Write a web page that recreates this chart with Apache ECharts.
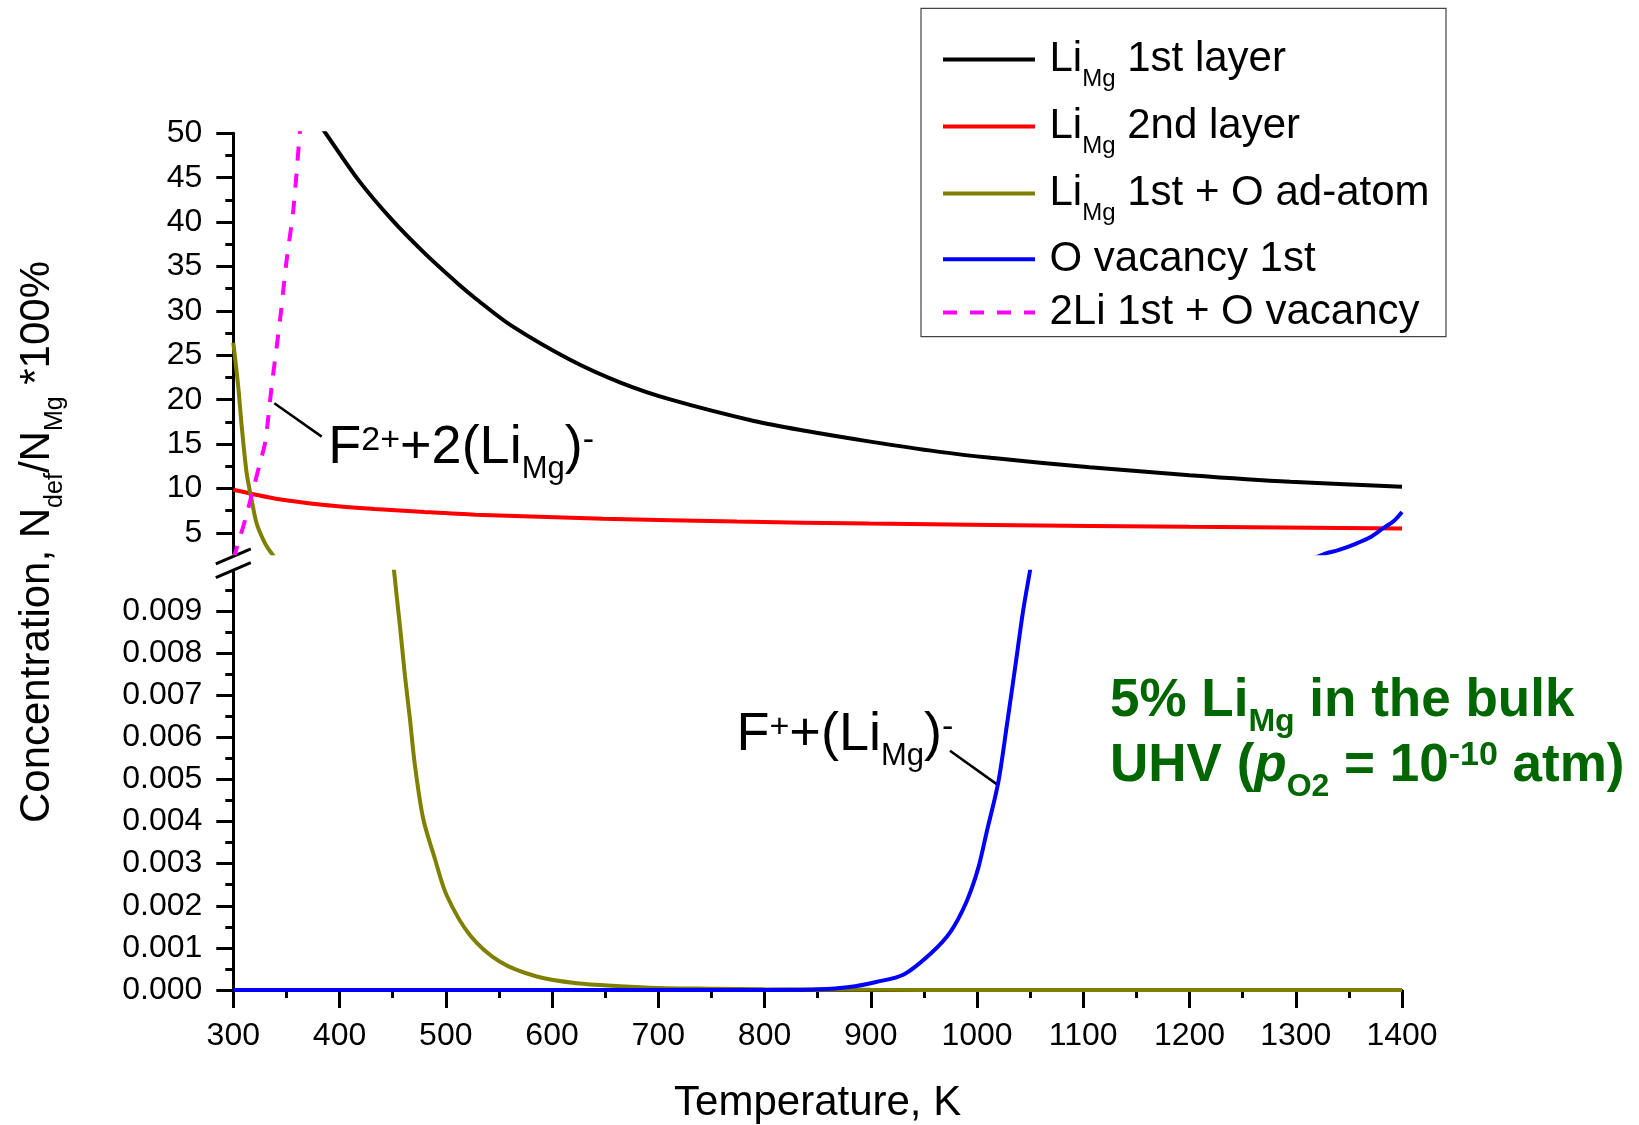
<!DOCTYPE html>
<html>
<head>
<meta charset="utf-8">
<title>Li-doped MgO surface defect concentrations</title>
<script src="https://cdn.jsdelivr.net/npm/echarts@6/dist/echarts.min.js"></script>
<style>
  html, body { margin: 0; padding: 0; background: #ffffff; }
  #chart { width: 1639px; height: 1125px; }
</style>
</head>
<body>
<div id="chart"></div>
<script>
// ---- Data: temperature (K) vs defect concentration N_def/N_Mg*100% ----
const tLi1 = [380, 387, 418, 449, 480, 512, 528, 561, 617, 665, 712, 790, 838, 901, 963, 1013, 1106, 1200, 1295, 1400];
const cLi1 = [51.2, 50.0, 44.7, 40.3, 36.5, 33.0, 31.4, 28.4, 24.5, 21.9, 20.0, 17.6, 16.5, 15.25, 14.15, 13.45, 12.4, 11.5, 10.75, 10.2];

const tLi2 = [300, 340, 386, 433, 480, 528, 648, 774, 899, 1013, 1200, 1400];
const cLi2 = [9.85, 8.85, 8.15, 7.7, 7.35, 7.05, 6.6, 6.27, 6.05, 5.9, 5.68, 5.5];

const tLiO = [300, 304.7, 308, 312.6, 317.3, 322, 330, 336, 341, 445, 451.2, 456.9, 461.6, 466.3, 471, 478.8, 489.8, 500.8, 522.8, 551, 585.6, 623.2, 664, 700, 750, 800, 850, 900, 1000, 1100, 1200, 1300, 1400];
const cLiO = [26.4, 21.4, 16.9, 11.7, 8.7, 6.05, 3.8, 2.7, 2.1, 0.0117, 0.00997, 0.00863, 0.00745, 0.00642, 0.00532, 0.00406, 0.00311, 0.00225, 0.0013, 0.00067, 0.00032, 0.00016, 0.00009, 0.00005, 0.00003, 0.000015, 0.000008, 0.000004, 0.000001, 0, 0, 0, 0];

const tVO = [300, 400, 500, 600, 700, 800, 850, 880, 905, 931, 957, 975, 990, 1001, 1009, 1020, 1028, 1036, 1043.5, 1050, 1055, 1310, 1320, 1329, 1340, 1357, 1370, 1382, 1392, 1400];
const cVO = [0, 0, 0, 0, 0, 0, 0.000015, 0.00007, 0.00019, 0.00037, 0.00088, 0.00138, 0.00209, 0.00288, 0.00374, 0.00493, 0.00627, 0.00768, 0.00902, 0.00997, 0.0107, 2.0, 2.3, 2.72, 3.05, 3.8, 4.5, 5.5, 6.3, 7.35];

const t2LiV = [300, 305, 311, 320, 325, 330, 333, 336, 344, 350, 356.5, 362, 365];
const c2LiV = [2.0, 4.0, 6.4, 10.5, 12.8, 15.2, 18.1, 21.4, 29.0, 35.5, 41.4, 49.2, 53.4];

// ---- Axis ticks ----
const tempTicksMin = 300, tempTicksMax = 1400, tempStep = 100;
const upperTicks = [5, 10, 15, 20, 25, 30, 35, 40, 45, 50];
const upperMinorTicks = [7.5, 12.5, 17.5, 22.5, 27.5, 32.5, 37.5, 42.5, 47.5];
const lowerTicks = [0, 0.001, 0.002, 0.003, 0.004, 0.005, 0.006, 0.007, 0.008, 0.009];
const lowerMinorTicks = [0.0005, 0.0015, 0.0025, 0.0035, 0.0045, 0.0055, 0.0065, 0.0075, 0.0085, 0.0095];
const upperRange = [2.7, 50];
const lowerRange = [0, 0.00993];

// ---- Series descriptions ----
const seriesNames = ['LiMg 1st layer', 'LiMg 2nd layer', 'LiMg 1st + O ad-atom', 'O vacancy 1st', '2Li 1st + O vacancy'];
const legendLabels = [
  'Li{s|Mg} 1st layer',
  'Li{s|Mg} 2nd layer',
  'Li{s|Mg} 1st + O ad-atom',
  'O vacancy 1st',
  '2Li 1st + O vacancy'
];
const seriesDefs = [
  { name: seriesNames[0], t: tLi1, c: cLi1, color: '#000000', dash: null },
  { name: seriesNames[1], t: tLi2, c: cLi2, color: '#ff0000', dash: null },
  { name: seriesNames[2], t: tLiO, c: cLiO, color: '#808000', dash: null },
  { name: seriesNames[3], t: tVO, c: cVO, color: '#0000ff', dash: null },
  { name: seriesNames[4], t: t2LiV, c: c2LiV, color: '#ff00ff', dash: [14, 13] }
];

const FONT = '"Liberation Sans", Arial, Helvetica, sans-serif';
const LINE_W = 4;

// Each curve is drawn in both panels of the broken axis; the grids clip it.
const series = [];
[[0, 0], [1, 2]].forEach(([xi, yi]) => {
  seriesDefs.forEach(d => {
    series.push({
      type: 'line',
      name: d.name,
      xAxisIndex: xi,
      yAxisIndex: yi,
      data: d.t.map((t, i) => [t, d.c[i]]),
      symbol: 'none',
      smooth: 0.3,
      clip: true,
      silent: true,
      lineStyle: { color: d.color, width: LINE_W, type: d.dash || 'solid' },
      itemStyle: { color: d.color }
    });
  });
});

const axisLineStyle = { color: '#000', width: 3 };

const option = {
  animation: false,
  backgroundColor: '#ffffff',
  textStyle: { fontFamily: FONT },
  grid: [
    { left: 233.3, width: 1168.7, top: 133.3, height: 420 },
    { left: 233.3, width: 1168.7, top: 571.7, height: 420 }
  ],
  xAxis: [
    { gridIndex: 0, type: 'value', min: tempTicksMin, max: tempTicksMax, show: false },
    {
      gridIndex: 1, type: 'value', min: tempTicksMin, max: tempTicksMax, interval: tempStep,
      axisLine: { show: true, onZero: false, lineStyle: axisLineStyle },
      axisTick: { show: true, length: 18, lineStyle: axisLineStyle },
      minorTick: { show: true, splitNumber: 2, length: 8, lineStyle: axisLineStyle },
      axisLabel: { fontSize: 32, color: '#000', margin: 30, fontFamily: FONT, formatter: v => String(v) },
      splitLine: { show: false },
      minorSplitLine: { show: false },
      name: 'Temperature, K',
      nameLocation: 'middle',
      nameGap: 92,
      nameTextStyle: { fontSize: 42, color: '#000', fontFamily: FONT }
    }
  ],
  yAxis: [
    {
      gridIndex: 0, type: 'value', min: upperRange[0], max: upperRange[1], position: 'left',
      axisLine: { show: true, onZero: false, lineStyle: axisLineStyle },
      axisTick: { show: true, length: 17, lineStyle: axisLineStyle, customValues: upperTicks },
      axisLabel: { customValues: upperTicks, fontSize: 32, color: '#000', margin: 31, fontFamily: FONT },
      splitLine: { show: false }
    },
    {
      gridIndex: 0, type: 'value', min: upperRange[0], max: upperRange[1], position: 'left', offset: 0,
      axisLine: { show: false },
      axisTick: { show: true, length: 8, lineStyle: axisLineStyle, customValues: upperMinorTicks },
      axisLabel: { show: false },
      splitLine: { show: false }
    },
    {
      gridIndex: 1, type: 'value', min: lowerRange[0], max: lowerRange[1], position: 'left',
      axisLine: { show: true, onZero: false, lineStyle: axisLineStyle },
      axisTick: { show: true, length: 17, lineStyle: axisLineStyle, customValues: lowerTicks },
      axisLabel: {
        customValues: lowerTicks, fontSize: 32, color: '#000', margin: 31, fontFamily: FONT,
        formatter: v => v.toFixed(3)
      },
      splitLine: { show: false }
    },
    {
      gridIndex: 1, type: 'value', min: lowerRange[0], max: lowerRange[1], position: 'left', offset: 0,
      axisLine: { show: false },
      axisTick: { show: true, length: 8, lineStyle: axisLineStyle, customValues: lowerMinorTicks },
      axisLabel: { show: false },
      splitLine: { show: false }
    }
  ],
  series: series
};

const chart = echarts.init(document.getElementById('chart'), null, { renderer: 'canvas' });
chart.setOption(option);

// ---- Decorations placed from axis / data coordinates ----
const toUpper = (t, v) => chart.convertToPixel({ xAxisIndex: 0, yAxisIndex: 0 }, [t, v]);
const toLower = (t, v) => chart.convertToPixel({ xAxisIndex: 1, yAxisIndex: 2 }, [t, v]);

const upperBottom = toUpper(tempTicksMin, upperRange[0]);
const lowerTop = toLower(tempTicksMin, lowerRange[1]);
const breakCenters = [upperBottom[1] + 3, lowerTop[1] - 1.5];

// annotation anchors on the curves (data coordinates)
const anchorF2 = toUpper(338.6, 19.6);
const anchorF1 = toLower(1018.5, 0.004887);

const txt = (extra) => Object.assign({ fill: '#000', fontFamily: FONT }, extra);

const graphics = [];

// axis break marks
breakCenters.forEach(cy => {
  graphics.push({
    type: 'line', silent: true,
    shape: { x1: upperBottom[0] - 17.5, y1: cy + 7.5, x2: upperBottom[0] + 17.5, y2: cy - 7.5 },
    style: { stroke: '#000', lineWidth: 3 }
  });
});

// ---- Legend box ----
const legendBox = { x: 921, y: 8.4, width: 525, height: 328.2 };
const legendRowsY = [59.6, 126.5, 193.4, 259.2, 312.5];
const legendLineX = [943, 1035];
const legendTextX = 1049.5;
graphics.push({
  type: 'rect', silent: true,
  shape: legendBox,
  style: { fill: '#ffffff', stroke: '#444', lineWidth: 1.2 }
});
seriesDefs.forEach((d, i) => {
  graphics.push({
    type: 'line', silent: true,
    shape: { x1: legendLineX[0], y1: legendRowsY[i], x2: legendLineX[1], y2: legendRowsY[i] },
    style: { stroke: d.color, lineWidth: LINE_W, lineDash: d.dash || null }
  });
  graphics.push({
    type: 'text', silent: true,
    x: legendTextX, y: legendRowsY[i],
    style: {
      text: legendLabels[i],
      fill: '#000', fontSize: 42, fontFamily: FONT,
      align: 'left', verticalAlign: 'middle',
      rich: { s: txt({ fontSize: 24, padding: [39, 0, 0, 0] }) }
    }
  });
});

const annotRich = {
  sup: txt({ fontSize: 34, padding: [0, 0, 15, 0] }),
  sub: txt({ fontSize: 31, padding: [43, 0, 0, 0] })
};

// F2+ + 2(LiMg)- label and its pointer
graphics.push({
  type: 'line', silent: true,
  shape: { x1: anchorF2[0], y1: anchorF2[1], x2: anchorF2[0] + 47.4, y2: anchorF2[1] + 33.4 },
  style: { stroke: '#000', lineWidth: 2.5 }
});
graphics.push({
  type: 'text', silent: true,
  x: anchorF2[0] + 54, y: anchorF2[1] + 44.6,
  style: {
    text: 'F{sup|2+}+2(Li{sub|Mg}){sup|-}',
    fill: '#000', fontSize: 54, fontFamily: FONT,
    align: 'left', verticalAlign: 'middle',
    rich: annotRich
  }
});

// F+ + (LiMg)- label and its pointer
graphics.push({
  type: 'line', silent: true,
  shape: { x1: anchorF1[0], y1: anchorF1[1], x2: anchorF1[0] - 46.7, y2: anchorF1[1] - 33.3 },
  style: { stroke: '#000', lineWidth: 2.5 }
});
graphics.push({
  type: 'text', silent: true,
  x: anchorF1[0] - 43.4, y: anchorF1[1] - 48.7,
  style: {
    text: 'F{sup|+}+(Li{sub|Mg}){sup|-}',
    fill: '#000', fontSize: 54, fontFamily: FONT,
    align: 'right', verticalAlign: 'middle',
    rich: annotRich
  }
});

// Y axis title (rotated), set a little above the middle of the broken axis
const yTitleX = 37, yTitleY = 542;
graphics.push({
  type: 'text', silent: true,
  x: yTitleX, y: yTitleY, rotation: Math.PI / 2,
  style: {
    text: 'Concentration, N{sub|def}/N{sub|Mg} *100%',
    fill: '#000', fontSize: 42, fontFamily: FONT,
    align: 'center', verticalAlign: 'middle',
    rich: { sub: txt({ fontSize: 25, padding: [36, 0, 0, 0] }) }
  }
});

// Conditions note
const GREEN = '#006600';
const greenTxt = (extra) => Object.assign({ fill: GREEN, fontFamily: FONT, fontWeight: 'bold' }, extra);
graphics.push({
  type: 'text', silent: true,
  x: 1110, y: 701.5,
  style: {
    text: '5% Li{sub|Mg} in the bulk',
    fill: GREEN, fontSize: 53, fontWeight: 'bold', fontFamily: FONT,
    align: 'left', verticalAlign: 'middle',
    rich: { sub: greenTxt({ fontSize: 32, padding: [42, 0, 0, 0] }) }
  }
});
graphics.push({
  type: 'text', silent: true,
  x: 1110, y: 766,
  style: {
    text: 'UHV ({it|p}{sub|O2} = 10{sup|-10} atm)',
    fill: GREEN, fontSize: 53, fontWeight: 'bold', fontFamily: FONT,
    align: 'left', verticalAlign: 'middle',
    rich: {
      it: greenTxt({ fontSize: 53, fontStyle: 'italic' }),
      sub: greenTxt({ fontSize: 32, padding: [42, 0, 0, 0] }),
      sup: greenTxt({ fontSize: 34, padding: [0, 0, 20, 0] })
    }
  }
});

chart.setOption({ graphic: graphics });
</script>
</body>
</html>
